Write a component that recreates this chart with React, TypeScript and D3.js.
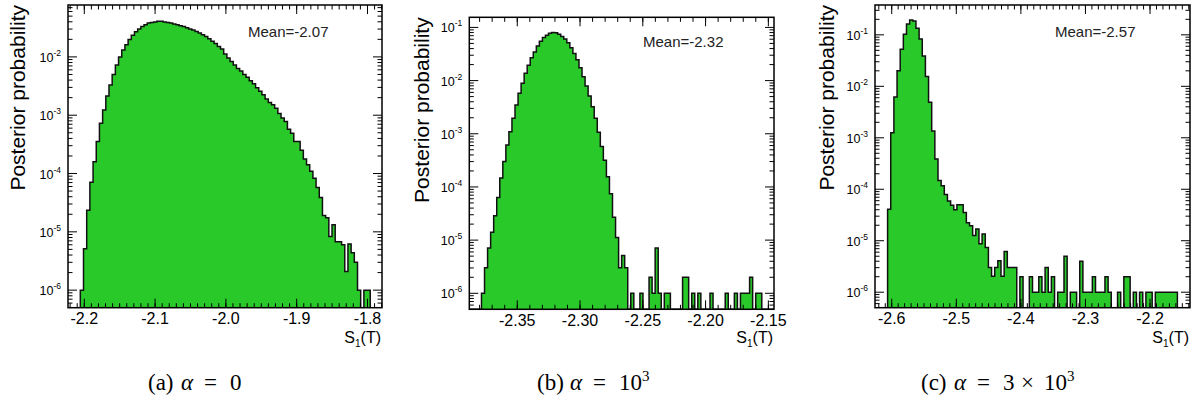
import React from "react";
import * as d3 from "d3";

// ---------------- DATA ----------------
// Each histogram: first bin edge, bin width, and log10(posterior probability) per bin (null = empty bin)

// (a) alpha = 0
const binLoA = -2.2056;
const binWidthA = 0.0045;
const log10ProbA: (number | null)[] = [
  -6.0, -5.29, -4.63, -4.15, -3.8, -3.45, -3.14, -2.91, -2.67, -2.48,
  -2.3, -2.14, -2.0, -1.88, -1.79, -1.7, -1.63, -1.57, -1.52, -1.48,
  -1.45, -1.42, -1.41, -1.4, -1.39, -1.39, -1.4, -1.41, -1.42, -1.435,
  -1.45, -1.464, -1.48, -1.5, -1.52, -1.54, -1.566, -1.59, -1.62, -1.65,
  -1.69, -1.73, -1.77, -1.82, -1.863, -1.95, -2.02, -2.08, -2.14, -2.2,
  -2.24, -2.3, -2.35, -2.41, -2.46, -2.53, -2.59, -2.65, -2.72, -2.78,
  -2.82, -2.88, -2.97, -3.05, -3.11, -3.24, -3.31, -3.45, -3.45, -3.6,
  -3.75, -3.85, -3.96, -4.08, -4.24, -4.41, -4.72, -4.76, -5.08, -4.88,
  -5.17, -5.17, -5.22, -5.68, -5.21, -5.36, -5.52, -6.0, null, -6.0,
  -6.0,
];

// (b) alpha = 10^3
const binLoB = -2.3882;
const binWidthB = 0.0024268;
const log10ProbB: (number | null)[] = [
  null, null, null, null, -6.0, -5.52, -5.15, -4.85, -4.54, -4.2,
  -3.83, -3.52, -3.21, -2.96, -2.71, -2.46, -2.24, -2.05, -1.86, -1.71,
  -1.57, -1.46, -1.35, -1.26, -1.19, -1.145, -1.11, -1.095, -1.1, -1.13,
  -1.17, -1.22, -1.29, -1.38, -1.49, -1.61, -1.76, -1.93, -2.1, -2.29,
  -2.49, -2.71, -2.97, -3.24, -3.5, -3.81, -4.13, -4.57, -4.95, -5.52,
  -5.29, -5.52, null, -6.0, null, null, -6.0, null, null, -5.7,
  -6.0, -5.15, -6.0, null, -6.0, -6.0, null, null, null, null,
  -5.7, -5.7, null, -6.0, null, -6.0, null, null, null, -6.0,
  null, null, null, null, -6.0, null, null, -6.0, null, -6.0,
  -6.0, -6.0, -5.7, null, -6.0, -6.0, null, null, null, null,
];

// (c) alpha = 3 x 10^3
const binLoC = -2.6259;
const binWidthC = 0.0048779;
const log10ProbC: (number | null)[] = [
  null, null, null, null, -4.39, -2.9, -2.21, -1.7, -1.28, -0.99,
  -0.79, -0.71, -0.73, -0.87, -1.08, -1.41, -1.81, -2.31, -2.87, -3.41,
  -3.83, -3.93, -4.1, -4.23, -4.31, -4.4, -4.3, -4.3, -4.45, -4.65,
  -4.71, -4.9, -4.77, -5.06, -4.87, -5.13, -5.52, -5.69, -5.52, -5.39,
  -5.69, -5.21, -5.52, -5.52, -5.52, null, -5.7, null, null, -5.7,
  -6.0, -6.0, -5.7, -6.0, -5.52, -6.0, -5.7, null, -6.0, -6.0,
  -5.3, null, -6.0, -6.0, null, -5.4, -6.0, -6.0, -6.0, -5.7,
  -6.0, -6.0, -6.0, -5.7, -6.0, null, null, -6.0, null, -5.7,
  -5.7, null, -6.0, null, -6.0, null, -6.0, -6.0, null, -6.0,
  -6.0, -6.0, -6.0, -6.0, -6.0, -6.0, null, null, null, null,
];

// Axis ranges and tick labels
const xDomainA: [number, number] = [-2.223, -1.7795];
const xDomainB: [number, number] = [-2.3882, -2.1455];
const xDomainC: [number, number] = [-2.6259, -2.1381];
const yDomainA: [number, number] = [5e-7, 0.0776];
const yDomainB: [number, number] = [5e-7, 0.155];
const yDomainC: [number, number] = [5e-7, 0.38];
const xTicksA = [-2.2, -2.1, -2.0, -1.9, -1.8];
const xTickLabelsA = ["-2.2", "-2.1", "-2.0", "-1.9", "-1.8"];
const xTicksB = [-2.35, -2.3, -2.25, -2.2, -2.15];
const xTickLabelsB = ["-2.35", "-2.30", "-2.25", "-2.20", "-2.15"];
const xTicksC = [-2.6, -2.5, -2.4, -2.3, -2.2];
const xTickLabelsC = ["-2.6", "-2.5", "-2.4", "-2.3", "-2.2"];
const yExpA = [-2, -3, -4, -5, -6];
const yExpB = [-1, -2, -3, -4, -5, -6];
const yExpC = [-1, -2, -3, -4, -5, -6];
const meanA = "Mean=-2.07";
const meanB = "Mean=-2.32";
const meanC = "Mean=-2.57";

// ---------------- LAYOUT ----------------
const W = 1193;
const H = 402;
const SANS = "'Liberation Sans', Arial, Helvetica, sans-serif";
const SERIF = "'Liberation Serif', 'Times New Roman', serif";
const GREEN = "#2ac92a";

type Spec = {
  frame: { x0: number; x1: number; y0: number; y1: number };
  xDomain: [number, number];
  yDomain: [number, number];
  binLo: number;
  binWidth: number;
  values: (number | null)[];
  xTicks: number[];
  xTickLabels: string[];
  yExp: number[];
  mean: string;
  meanPos: [number, number];
  yTitleX: number;
};

const panels: Spec[] = [
  {
    frame: { x0: 68, x1: 382, y0: 5, y1: 307.7 },
    xDomain: xDomainA, yDomain: yDomainA, binLo: binLoA, binWidth: binWidthA, values: log10ProbA,
    xTicks: xTicksA, xTickLabels: xTickLabelsA, yExp: yExpA, mean: meanA, meanPos: [248, 37], yTitleX: 25,
  },
  {
    frame: { x0: 469.3, x1: 774, y0: 17.3, y1: 309.3 },
    xDomain: xDomainB, yDomain: yDomainB, binLo: binLoB, binWidth: binWidthB, values: log10ProbB,
    xTicks: xTicksB, xTickLabels: xTickLabelsB, yExp: yExpB, mean: meanB, meanPos: [643, 47], yTitleX: 428.5,
  },
  {
    frame: { x0: 875, x1: 1190, y0: 5, y1: 307.7 },
    xDomain: xDomainC, yDomain: yDomainC, binLo: binLoC, binWidth: binWidthC, values: log10ProbC,
    xTicks: xTicksC, xTickLabels: xTickLabelsC, yExp: yExpC, mean: meanC, meanPos: [1055, 37], yTitleX: 833.5,
  },
];

function Panel({ s, idx }: { s: Spec; idx: number }) {
  const { x0, x1, y0, y1 } = s.frame;
  const x = d3.scaleLinear().domain(s.xDomain).range([x0, x1]);
  const y = d3.scaleLog().domain(s.yDomain).range([y1, y0]);

  const p = d3.path();
  p.moveTo(x(s.binLo), y1);
  s.values.forEach((v, i) => {
    const xl = x(s.binLo + i * s.binWidth);
    const xr = x(s.binLo + (i + 1) * s.binWidth);
    const yy = v == null ? y1 : y(Math.pow(10, v));
    p.lineTo(xl, yy);
    p.lineTo(xr, yy);
  });
  p.lineTo(x(s.binLo + s.values.length * s.binWidth), y1);
  const d = p.toString();

  const minorX = d3
    .range(Math.ceil(s.xDomain[0] / 0.01 - 1e-6), Math.floor(s.xDomain[1] / 0.01 + 1e-6) + 1)
    .map((i) => i * 0.01);
  const yMinor: number[] = [];
  for (let e = -7; e <= 0; e++) {
    for (let m = 2; m <= 9; m++) {
      const v = m * Math.pow(10, e);
      if (v > s.yDomain[0] && v < s.yDomain[1]) yMinor.push(v);
    }
  }
  const yMajor = s.yExp.map((e) => Math.pow(10, e));
  const MAJ = 9;
  const MIN = 4.5;
  const clipId = `clip${idx}`;

  return (
    <g>
      <defs>
        <clipPath id={clipId}>
          <rect x={x0} y={y0} width={x1 - x0} height={y1 - y0} />
        </clipPath>
      </defs>
      <path d={d} fill={GREEN} stroke="#111" strokeWidth={1.5} strokeLinejoin="miter" clipPath={`url(#${clipId})`} />
      {/* x ticks bottom & top */}
      {minorX.map((t, i) => (
        <g key={`mx${i}`} stroke="#000" strokeWidth={1}>
          <line x1={x(t)} x2={x(t)} y1={y1} y2={y1 - MIN} />
          <line x1={x(t)} x2={x(t)} y1={y0} y2={y0 + MIN} />
        </g>
      ))}
      {s.xTicks.map((t, i) => (
        <g key={`Mx${i}`} stroke="#000" strokeWidth={1}>
          <line x1={x(t)} x2={x(t)} y1={y1} y2={y1 - MAJ} />
          <line x1={x(t)} x2={x(t)} y1={y0} y2={y0 + MAJ} />
        </g>
      ))}
      {/* y ticks left & right */}
      {yMinor.map((t, i) => (
        <g key={`my${i}`} stroke="#000" strokeWidth={1}>
          <line x1={x0} x2={x0 + MIN} y1={y(t)} y2={y(t)} />
          <line x1={x1} x2={x1 - MIN} y1={y(t)} y2={y(t)} />
        </g>
      ))}
      {yMajor.map((t, i) => (
        <g key={`My${i}`} stroke="#000" strokeWidth={1}>
          <line x1={x0} x2={x0 + MAJ} y1={y(t)} y2={y(t)} />
          <line x1={x1} x2={x1 - MAJ} y1={y(t)} y2={y(t)} />
        </g>
      ))}
      <rect x={x0} y={y0} width={x1 - x0} height={y1 - y0} fill="none" stroke="#000" strokeWidth={1.5} />
      {/* x tick labels */}
      {s.xTicks.map((t, i) => (
        <text key={`xl${i}`} x={x(t)} y={y1 + 16.5} textAnchor="middle" fontFamily={SANS} fontSize={16} fill="#000">
          {s.xTickLabels[i]}
        </text>
      ))}
      {/* y tick labels */}
      {s.yExp.map((e, i) => (
        <text key={`yl${i}`} x={x0 - 7} y={y(Math.pow(10, e)) + 5} textAnchor="end" fontFamily={SANS} fontSize={12.5} fill="#000">
          10
          <tspan dy={-6} fontSize={8.5}>{`${e}`}</tspan>
        </text>
      ))}
      {/* y title */}
      <text
        transform={`translate(${s.yTitleX},${y0}) rotate(-90)`}
        textAnchor="end"
        fontFamily={SANS}
        fontSize={21}
        fill="#000"
      >
        Posterior probability
      </text>
      {/* x title */}
      <text x={x1 - 1} y={343} textAnchor="end" fontFamily={SANS} fontSize={16} fill="#000">
        S<tspan dy={4} fontSize={10}>1</tspan>
        <tspan dy={-4}>(T)</tspan>
      </text>
      {/* mean */}
      <text x={s.meanPos[0]} y={s.meanPos[1]} fontFamily={SANS} fontSize={15} fill="#222">
        {s.mean}
      </text>
    </g>
  );
}

export default function App() {
  const cap = { fontFamily: SERIF, fontSize: 23, fill: "#000" } as const;
  const base = 390;
  return (
    <svg
      width={W}
      height={H}
      viewBox={`0 0 ${W} ${H}`}
      style={{ position: "absolute", left: 0, top: 0, background: "#fff" }}
    >
      <rect x={0} y={0} width={W} height={H} fill="#fff" />
      {panels.map((s, i) => (
        <Panel key={i} s={s} idx={i} />
      ))}
      <g {...cap}>
        <text x={148} y={base}>(a)</text>
        <text x={181} y={base} fontStyle="italic">α</text>
        <text x={204} y={base}>=</text>
        <text x={230} y={base}>0</text>

        <text x={537} y={base}>(b)</text>
        <text x={570} y={base} fontStyle="italic">α</text>
        <text x={593} y={base}>=</text>
        <text x={619} y={base}>10</text>
        <text x={642} y={base - 9} fontSize={15}>3</text>

        <text x={921} y={base}>(c)</text>
        <text x={954} y={base} fontStyle="italic">α</text>
        <text x={977} y={base}>=</text>
        <text x={1003} y={base}>3</text>
        <text x={1021} y={base}>×</text>
        <text x={1044} y={base}>10</text>
        <text x={1067} y={base - 9} fontSize={15}>3</text>
      </g>
    </svg>
  );
}
